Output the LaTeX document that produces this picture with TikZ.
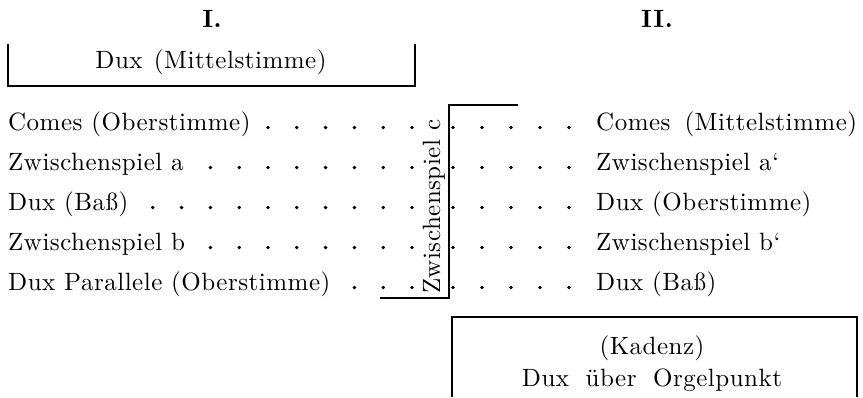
\documentclass[tikz,border=0pt]{standalone}
\usepackage{fontspec}
\setmainfont{lmroman10-regular.otf}[BoldFont=lmroman10-bold.otf, LetterSpace=2]
\begin{document}
\begin{tikzpicture}[x=1pt,y=-1pt,
  txt/.style={inner sep=0pt, font=\fontsize{25}{30}\selectfont},
  lbl/.style={txt, anchor=base west},
  ctr/.style={txt, anchor=base},
  head/.style={ctr, font=\fontsize{25}{30}\selectfont\bfseries},
  rule/.style={line width=1.4pt},
  pt/.style={circle, fill=black, inner sep=0pt, minimum size=3.8pt}]
\useasboundingbox (0,0) rectangle (863,397);
% headings
\node[head] (h1) at (212,27) {I.};
\node[head] (h2) at (657,27) {II.};
% top bracket
\node[ctr] (duxm) at (211,68) {Dux\hspace{0.45em}(Mittelstimme)};
\draw[rule] (8,44) -- (8,86) -- (415,86) -- (415,44);
% left column
\node[lbl] (l1) at (8,130) {Comes (Oberstimme)};
\node[lbl] (l2) at (8,170) {Zwischenspiel a};
\node[lbl] (l3) at (8,210) {Dux (Baß)};
\node[lbl] (l4) at (8,250) {Zwischenspiel b};
\node[lbl] (l5) at (8,290) {Dux Parallele (Oberstimme)};
% right column
\node[lbl] (r1) at (596,130) {Comes\hspace{0.56em}(Mittelstimme)};
\node[lbl] (r2) at (596,170) {Zwischenspiel a‘};
\node[lbl] (r3) at (596,210) {Dux (Oberstimme)};
\node[lbl] (r4) at (596,250) {Zwischenspiel b‘};
\node[lbl] (r5) at (596,290) {Dux (Baß)};
% leader dots
\foreach \row/\n in {1/5, 2/7, 3/9, 4/7, 5/2} {
  \foreach \k in {0,...,\n} {
    \node[pt] (dl\row-\k) at ({412-28.8*\k}, {87.5+40*\row}) {};
  }
  \foreach \k in {0,...,4} {
    \node[pt] (dr\row-\k) at ({453+29*\k}, {87.5+40*\row}) {};
  }
}
% Zwischenspiel c
\node[lbl, rotate=90] (zc) at (440,294) {Zwischenspiel c};
\draw[rule] (380,298) -- (449,298) -- (449,105) -- (518,105);
% Kadenz box
\node[ctr] (kad) at (652,354) {(Kadenz)};
\node[ctr] (org) at (652,386) {Dux\hspace{0.66em}über\hspace{0.66em}Orgelpunkt};
\draw[rule] (452,397) -- (452,317) -- (857,317) -- (857,397);
\end{tikzpicture}
\end{document}
